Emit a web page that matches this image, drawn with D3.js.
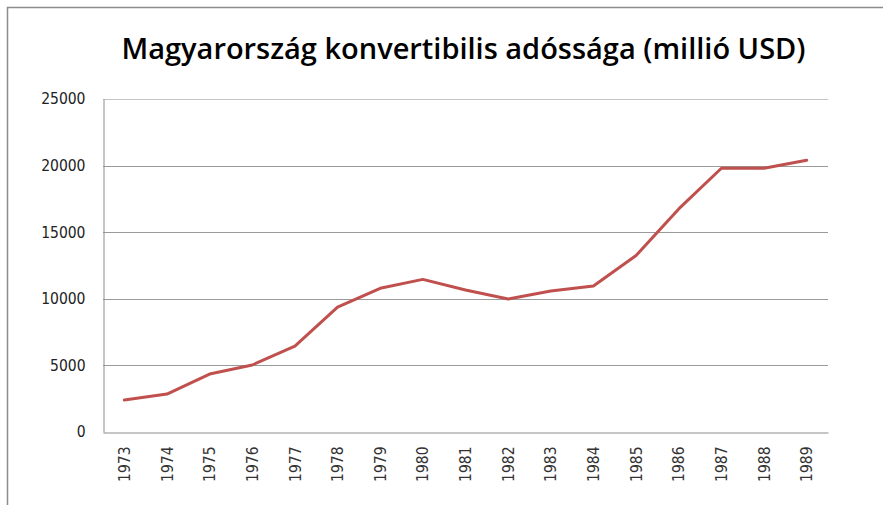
<!DOCTYPE html>
<html>
<head>
<meta charset="utf-8">
<script src="https://cdn.jsdelivr.net/npm/d3@7"></script>
<style>
  html, body { margin: 0; padding: 0; background: #fff; }
  svg { display: block; }
</style>
</head>
<body>
<svg id="chart" width="883" height="505"></svg>
<script>
const title = "Magyarország konvertibilis adóssága (millió USD)";
const years = ["1973","1974","1975","1976","1977","1978","1979","1980","1981","1982","1983","1984","1985","1986","1987","1988","1989"];
const debt = [2400, 2850, 4350, 5030, 6450, 9370, 10790, 11460, 10660, 9980, 10590, 10960, 13250, 16750, 19800, 19800, 20400];
const yTicks = [0, 5000, 10000, 15000, 20000, 25000];

const svg = d3.select("#chart");
const W = 883, H = 505;
const m = { left: 103, right: 55, top: 99, bottom: 73 };
const pw = W - m.left - m.right, ph = H - m.top - m.bottom;

// outer chart border (left and top visible)
svg.append("path")
  .attr("d", `M7.5,${H} V7.5 H${W}`)
  .attr("fill", "none").attr("stroke", "#8c8c8c").attr("stroke-width", 1.5);

svg.append("text")
  .attr("x", 121.5).attr("y", 58.5)
  .attr("textLength", 684).attr("lengthAdjust", "spacingAndGlyphs")
  .style("font-family", "'Open Sans', sans-serif")
  .style("font-weight", 600)
  .style("font-size", "28px")
  .attr("fill", "#000")
  .text(title);

const x = d3.scaleBand().domain(years).range([m.left, m.left + pw]).padding(0);
const y = d3.scaleLinear().domain([0, 25000]).range([m.top + ph, m.top]);

// gridlines
svg.append("g").selectAll("line").data(yTicks.filter(t => t > 0)).join("line")
  .attr("x1", m.left).attr("x2", m.left + pw)
  .attr("y1", d => Math.round(y(d)) + 0.5).attr("y2", d => Math.round(y(d)) + 0.5)
  .attr("stroke", d => d === 25000 ? "#c4c4c4" : "#9a9a9a").attr("stroke-width", 1.2);

// y axis
const yAxis = svg.append("g").attr("transform", `translate(${m.left + 0.5},0)`)
  .call(d3.axisLeft(y).tickValues(yTicks).tickSize(0).tickPadding(18).tickFormat(d3.format("d")));
yAxis.select(".domain").attr("stroke", "#8c8c8c");
yAxis.selectAll("text")
  .style("font-family", "'DejaVu Sans Condensed', 'DejaVu Sans', sans-serif")
  .style("font-stretch", "condensed")
  .style("font-size", "15.5px").attr("fill", "#222");

// x axis
const xAxis = svg.append("g").attr("transform", `translate(0,${Math.round(m.top + ph) + 0.5})`)
  .call(d3.axisBottom(x).tickSize(0).tickPadding(0));
xAxis.select(".domain").attr("stroke", "#8c8c8c");
xAxis.selectAll("text")
  .style("font-family", "'DejaVu Sans Condensed', 'DejaVu Sans', sans-serif")
  .style("font-stretch", "condensed")
  .style("font-size", "15.5px").attr("fill", "#333")
  .attr("transform", "rotate(-90)")
  .attr("text-anchor", "end")
  .attr("x", -14).attr("y", 0).attr("dy", "0.36em");

// line
const line = d3.line()
  .x((d, i) => x(years[i]) + x.bandwidth() / 2)
  .y(d => y(d));
svg.append("path").datum(debt)
  .attr("d", line)
  .attr("fill", "none")
  .attr("stroke", "#c0504d")
  .attr("stroke-width", 3)
  .attr("stroke-linejoin", "round")
  .attr("stroke-linecap", "round");
</script>
</body>
</html>
